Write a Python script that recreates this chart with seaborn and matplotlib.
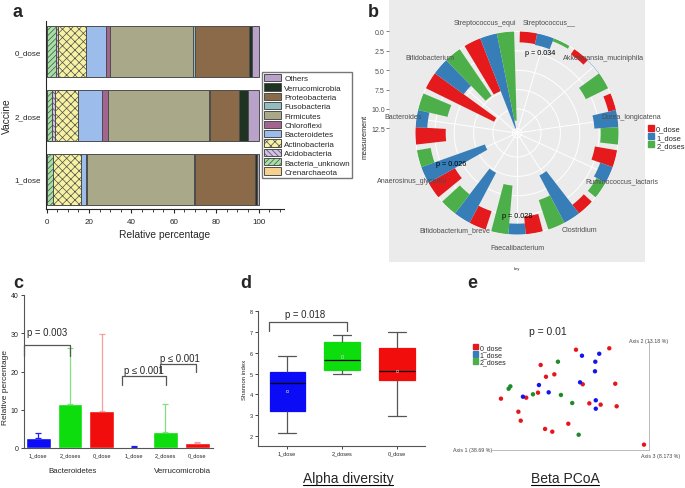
import numpy as np
import pandas as pd
import matplotlib.pyplot as plt
import seaborn as sns
from matplotlib.patches import Patch
from matplotlib.lines import Line2D

sns.set_style("ticks")
plt.rcParams['font.family'] = ['Liberation Sans', 'DejaVu Sans']
plt.rcParams['hatch.linewidth'] = 0.5
plt.rcParams['hatch.color'] = '#3a3a3a'

# ---- panel a: mean relative abundance per phylum (stack order left -> right)
phyla = ["Crenarchaeota", "Bacteria_unknown", "Acidobacteria", "Actinobacteria",
         "Bacteroidetes", "Chloroflexi", "Firmicutes", "Fusobacteria",
         "Proteobacteria", "Verrucomicrobia", "Others"]
vaccine_groups = ["0_dose", "2_dose", "1_dose"]
pct_0_dose = [0.2, 4.2, 0.8, 13.4, 9.5, 1.7, 39.4, 1.0, 25.2, 1.3, 3.3]
pct_2_dose = [0.1, 2.3, 1.6, 10.8, 11.4, 2.9, 47.4, 0.8, 13.3, 4.5, 4.9]
pct_1_dose = [0.1, 2.8, 0.2, 12.9, 2.7, 0.2, 50.7, 0.3, 28.5, 0.8, 0.8]
phylum_colors = ["#f6d08e", "#a6e0a4", "#d2c0e6", "#f7f1a2", "#9cbcec", "#a3648f",
                 "#a9a98a", "#93bcbd", "#8b6a49", "#1f3322", "#b9a2c9"]
phylum_hatches = [None, "//////", "\\\\\\\\\\\\", "xxxx", None, None, None, None, None, None, None]

# ---- panel b: circular bar chart, top species per dose group
species = ["Streptococcus__", "Akkermansia_muciniphila", "Dorea_longicatena",
           "Ruminococcus_lactaris", "Clostridium", "Faecalibacterium",
           "Bifidobacterium_breve", "Anaerosinus_glycerini", "Bacteroides",
           "Bifidobacterium", "Streptococcus_equi"]
dose_b = ["0_dose", "1_dose", "2_doses"]
meas_0_dose = [1.4, 0.8, 1.0, 2.9, 1.4, 2.3, 2.5, 3.9, 3.9, 9.8, 7.3]
meas_1_dose = [1.5, 0.05, 3.1, 1.7, 6.9, 1.4, 7.3, 8.7, 1.5, 4.6, 12.5]
meas_2_doses = [0.4, 3.2, 2.3, 1.3, 4.0, 6.3, 3.1, 1.8, 3.9, 7.3, 11.5]
colors_b = ["#E41A1C", "#377EB8", "#4DAF4A"]
radial_ticks = [0.0, 2.5, 5.0, 7.5, 10.0, 12.5]
p_b_species = [0, 7, 5]
p_b_text = ["p = 0.034", "p = 0.026", "p = 0.028"]
p_b_y = [2.3, 3.7, 2.4]

# ---- panel c: relative percentage of two phyla
c_phylum = ["Bacteroidetes"] * 3 + ["Verrucomicrobia"] * 3
c_dose = ["1_dose", "2_doses", "0_dose"] * 2
c_mean = [2.6, 11.4, 9.8, 0.3, 4.3, 1.3]
c_err_top = [3.9, 26.1, 29.8, 0.6, 11.5, 1.6]
colors_c = ["#0b0bf5", "#0ddc0d", "#f20d0d"] * 2
colors_c_err = ["#2020f0", "#80e080", "#f4a0a0"] * 2

# ---- panel d: Shannon index (whisker low, Q1, median, Q3, whisker high)
d_groups = ["1_dose", "2_doses", "0_dose"]
shannon_1_dose = [2.11, 3.17, 4.53, 5.06, 5.86]
shannon_2_doses = [4.98, 5.17, 5.65, 6.54, 6.87]
shannon_0_dose = [2.97, 4.69, 5.10, 6.21, 6.99]
shannon_mean = [4.15, 5.82, 5.12]
colors_d = ["#0b0bf5", "#0ddc0d", "#f20d0d"]

# ---- panel e: PCoA scores
pc1_0_dose = [0.035, 0.247, -0.19, -0.156, -0.103, 0.078, 0.285, -0.443, -0.282, -0.207,
              0.12, 0.192, 0.294, -0.332, -0.317, -0.014, -0.162, -0.116, 0.468]
pc2_0_dose = [0.42, 0.433, 0.28, 0.172, 0.194, 0.103, 0.108, -0.029, -0.02, 0.026,
              -0.072, -0.084, -0.099, -0.149, -0.231, -0.259, -0.307, -0.332, -0.451]
pc1_1_dose = [0.073, 0.183, 0.158, 0.156, 0.061, -0.201, -0.139, -0.303, 0.161, 0.161]
pc2_1_dose = [0.365, 0.383, 0.31, 0.222, 0.121, 0.096, 0.029, -0.011, -0.044, -0.121]
pc1_2_doses = [-0.08, -0.383, -0.394, -0.239, -0.061, 0.011, 0.052]
pc2_2_doses = [0.31, 0.084, 0.062, 0.011, 0.005, -0.069, -0.36]
colors_e = ["#e8141c", "#1414f0", "#1d8a2c"]
colors_e_legend = ["#E41A1C", "#377EB8", "#4DAF4A"]

fig = plt.figure(figsize=(6.85, 4.89), dpi=100)
W, H = 685.0, 489.0


def rect(x0, y0, x1, y1):
    # pixel box (top-left origin) -> figure fraction
    return [x0 / W, 1 - y1 / H, (x1 - x0) / W, (y1 - y0) / H]


def panel_letter(x, y, s):
    fig.text(x / W, 1 - y / H, s, fontsize=13, fontweight='bold', va='baseline')


def bracket(ax, x0, x1, ytop, ybot, txt, tx, ty, fs):
    ax.plot([x0, x0, x1, x1], [ybot, ytop, ytop, ybot], color='#555555', lw=0.9,
            clip_on=False)
    ax.text(tx, ty, txt, ha='center', va='center', fontsize=fs)


# =============== a ===============
axa = fig.add_axes(rect(46, 22, 284, 210))
left = np.zeros(3)
for name, col, hat, v0, v2, v1 in zip(phyla, phylum_colors, phylum_hatches,
                                      pct_0_dose, pct_2_dose, pct_1_dose):
    vals = np.array([v0, v2, v1])
    axa.barh(vaccine_groups, vals, left=left, height=0.8, color=col, hatch=hat,
             edgecolor='#4d4d4d', linewidth=0.7, label=name)
    left += vals
axa.set_xlim(-0.3, 112)
axa.set_ylim(2.47, -0.48)
axa.set_xticks(range(0, 101, 20))
axa.set_xticks(np.arange(0, 111, 5), minor=True)
axa.tick_params(axis='both', labelsize=5.8, length=3, width=0.8)
axa.tick_params(axis='x', which='minor', length=1.8, width=0.6)
axa.tick_params(axis='y', length=0)
for s in ['top', 'right']:
    axa.spines[s].set_visible(False)
axa.set_xlabel("Relative percentage", fontsize=7.4, labelpad=3)
axa.set_ylabel("Vaccine", fontsize=7.4)
axa.yaxis.set_label_coords(-0.143, 0.5)
h, l = axa.get_legend_handles_labels()
axa.legend(h[::-1], l[::-1], loc='upper left', bbox_to_anchor=(262 / W, 1 - 73 / H),
           bbox_transform=fig.transFigure, fontsize=5.8, fancybox=False,
           edgecolor='#777777', framealpha=1, borderpad=0.25, labelspacing=0.12,
           handlelength=2.1, handleheight=1.0, handletextpad=0.4, borderaxespad=0)
panel_letter(12, 16.7, "a")

# =============== b ===============
axbg = fig.add_axes(rect(389, 0, 645, 263))
axbg.set_facecolor('#EBEBEB')
axbg.set_xticks([])
axbg.set_yticks([])
for s in axbg.spines.values():
    s.set_visible(False)

R0 = 13.1      # value 0 sits on the outer ring, larger values point inward
RMAX = 13.16
axb = fig.add_axes(rect(415, 32, 619, 236), projection='polar')
axb.set_facecolor('none')
axb.set_theta_zero_location('N')
axb.set_theta_direction(-1)
n = len(species)
step = 2 * np.pi / n
centers = (np.arange(n) + 0.5) * step
for j, (vals, col) in enumerate(zip([meas_0_dose, meas_1_dose, meas_2_doses], colors_b)):
    vals = np.array(vals)
    axb.bar(centers + (j - 1) * 0.3 * step, vals, width=0.3 * step, bottom=R0 - vals,
            color=col, edgecolor='none', zorder=3)
axb.set_ylim(0, RMAX)
axb.set_xticks(centers)
axb.set_xticklabels([])
axb.set_yticks([R0 - t for t in radial_ticks])
axb.set_yticklabels([])
axb.grid(True, color='white', linewidth=0.7)
axb.spines['polar'].set_visible(False)
for th, name in zip(centers, species):
    axb.text(th, RMAX * 115 / 102, name, ha='center', va='center', fontsize=5.1,
             color='#4D4D4D', clip_on=False)
for k, txt, yv in zip(p_b_species, p_b_text, p_b_y):
    axb.text(centers[k], R0 - yv, txt, ha='center', va='center', fontsize=5.2,
             color='black', zorder=5)

axr = fig.add_axes(rect(389, 32, 389.5, 134))
axr.set_facecolor('none')
axr.set_ylim(R0, R0 - RMAX)
axr.set_yticks(radial_ticks)
axr.set_yticklabels([f"{t:.1f}" for t in radial_ticks])
axr.set_xticks([])
axr.tick_params(axis='y', labelsize=5, colors='#4D4D4D', length=2, width=0.5, pad=1)
for s in axr.spines.values():
    s.set_visible(False)
fig.text(365 / W, 1 - 137 / H, "measurement", rotation=90, fontsize=5.2,
         ha='center', va='center')
fig.legend(handles=[Patch(color=c, label=d) for c, d in zip(colors_b, dose_b)],
           loc='upper left', bbox_to_anchor=(648 / W, 1 - 126 / H), frameon=False,
           fontsize=5.4, handlelength=0.8, handleheight=0.9, labelspacing=0.05,
           handletextpad=0.3, borderpad=0, borderaxespad=0)
fig.text(517 / W, 1 - 269 / H, "key", fontsize=3, ha='center', va='center')
panel_letter(368, 16.7, "b")

# =============== c ===============
axc = fig.add_axes(rect(24, 296, 213, 449))
dfc = pd.DataFrame({"slot": [f"{p} {d}" for p, d in zip(c_phylum, c_dose)],
                    "pct": c_mean})
sns.barplot(data=dfc, x="slot", y="pct", hue="slot", palette=colors_c, legend=False,
            width=0.78, saturation=1, ax=axc)
for i, (m, top, ec) in enumerate(zip(c_mean, c_err_top, colors_c_err)):
    axc.errorbar(i, m, yerr=[[0], [top - m]], fmt='none', ecolor=ec,
                 elinewidth=0.9, capsize=2, capthick=0.9)
axc.set_xlim(-0.45, 5.5)
axc.set_ylim(0, 40)
axc.set_yticks(range(0, 41, 10))
axc.set_xticks(range(6))
axc.set_xticklabels(c_dose)
axc.tick_params(axis='y', labelsize=5, length=2.5, width=0.6, pad=1.5)
axc.tick_params(axis='x', labelsize=4.1, length=0, pad=3)
axc.set_xlabel("")
axc.set_ylabel("Relative percentage", fontsize=6)
axc.yaxis.set_label_coords(-0.077, 0.40)
for s in ['top', 'right']:
    axc.spines[s].set_visible(False)
for s in ['left', 'bottom']:
    axc.spines[s].set_color('#555555')
    axc.spines[s].set_linewidth(0.8)
tr = axc.get_xaxis_transform()
axc.text(1.08, -0.148, "Bacteroidetes", transform=tr, ha='center', va='center', fontsize=5.7)
axc.text(4.53, -0.148, "Verrucomicrobia", transform=tr, ha='center', va='center', fontsize=5.7)
bracket(axc, -0.44, 1.0, 26.9, 24.0, "p = 0.003", 0.28, 30.3, 6.9)
bracket(axc, 2.63, 4.03, 18.8, 16.5, "p ≤ 0.001", 3.33, 20.5, 6.9)
bracket(axc, 3.84, 4.97, 22.0, 19.8, "p ≤ 0.001", 4.45, 23.6, 6.9)
panel_letter(13, 288.3, "c")

# =============== d ===============
axd = fig.add_axes(rect(258, 312.3, 425, 446.7))
dfd = pd.DataFrame({"group": np.repeat(d_groups, 5),
                    "shannon": shannon_1_dose + shannon_2_doses + shannon_0_dose})
sns.boxplot(data=dfd, x="group", y="shannon", hue="group", order=d_groups,
            palette=colors_d, legend=False, whis=(0, 100), width=0.64, saturation=1,
            linecolor='#555555', linewidth=0.9,
            medianprops=dict(color='black', linewidth=0.9), ax=axd)
for p in axd.patches:
    p.set_edgecolor(p.get_facecolor())
axd.scatter(range(3), shannon_mean, s=3, marker='s', facecolor='none',
            edgecolor='#cccccc', linewidth=0.4, zorder=5)
axd.set_xlim(-0.53, 2.51)
axd.set_ylim(1.52, 8)
axd.set_yticks(range(2, 9))
axd.tick_params(axis='both', labelsize=4, length=2, width=0.6, pad=1.5)
axd.set_xlabel("")
axd.set_ylabel("Shannon index", fontsize=4.3, labelpad=2)
for s in ['top', 'right']:
    axd.spines[s].set_visible(False)
for s in ['left', 'bottom']:
    axd.spines[s].set_color('#555555')
    axd.spines[s].set_linewidth(0.8)
bracket(axd, -0.33, 1.09, 7.5, 7.07, "p = 0.018", 0.33, 7.85, 6.9)
panel_letter(240, 288.3, "d")

# =============== e ===============
axe = fig.add_axes(rect(492, 342, 649, 451))
dfe = pd.DataFrame({"pc1": pc1_0_dose + pc1_1_dose + pc1_2_doses,
                    "pc2": pc2_0_dose + pc2_1_dose + pc2_2_doses,
                    "group": ["0_dose"] * len(pc1_0_dose) + ["1_dose"] * len(pc1_1_dose)
                             + ["2_doses"] * len(pc1_2_doses)})
sns.scatterplot(data=dfe, x="pc1", y="pc2", hue="group", palette=colors_e, s=10,
                edgecolor='none', legend=False, ax=axe)
axe.set_xlim(-0.5, 0.5)
axe.set_ylim(-0.5, 0.5)
axe.set_xticks([])
axe.set_yticks([])
axe.set_xlabel("")
axe.set_ylabel("")
for s in ['top', 'left']:
    axe.spines[s].set_visible(False)
for s in ['bottom', 'right']:
    axe.spines[s].set_color('#b0b0b0')
    axe.spines[s].set_linewidth(0.6)
axe.text(0, 0, "Axis 1 (38.69 %)", transform=axe.transAxes, ha='right', va='center',
         fontsize=3.8, color='#444444')
axe.text(1.0, 1.0, "Axis 2 (13.18 %)", transform=axe.transAxes, ha='center',
         va='center', fontsize=3.8, color='#444444')
axe.text(0.949, -0.046, "Axis 3 (8.173 %)", transform=axe.transAxes, ha='left',
         va='center', fontsize=3.8, color='#444444')
axe.legend(handles=[Patch(color=c, label=d) for c, d in zip(colors_e_legend, dose_b)],
           loc='upper left', bbox_to_anchor=(473 / W, 1 - 345 / H),
           bbox_transform=fig.transFigure, frameon=False, fontsize=5,
           handlelength=0.7, handleheight=0.8, labelspacing=0.02,
           handletextpad=0.3, borderpad=0, borderaxespad=0)
fig.text(548 / W, 1 - 332 / H, "p = 0.01", fontsize=7.5, ha='center', va='center')
panel_letter(467, 288.3, "e")

# ---- underlined titles
titles = [fig.text(348 / W, 1 - 479 / H, "Alpha diversity", fontsize=10,
                   ha='center', va='center'),
          fig.text(565 / W, 1 - 479 / H, "Beta PCoA", fontsize=10,
                   ha='center', va='center')]
fig.canvas.draw()
for t in titles:
    bb = t.get_window_extent().transformed(fig.transFigure.inverted())
    fig.add_artist(Line2D([bb.x0, bb.x1], [bb.y0 + 0.001, bb.y0 + 0.001],
                          color='black', linewidth=0.8, transform=fig.transFigure))

fig.savefig("out.png", dpi=100)
